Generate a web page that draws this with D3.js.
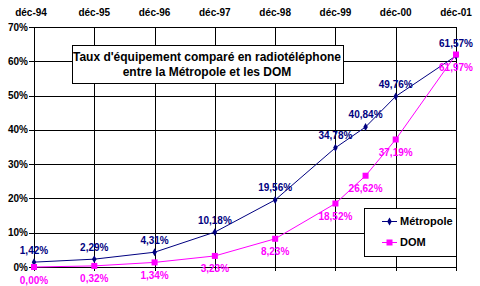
<!DOCTYPE html>
<html>
<head>
<meta charset="utf-8">
<script src="https://cdn.jsdelivr.net/npm/d3@7"></script>
<style>
  body { margin: 0; background: #fff; }
  svg { display: block; font-family: "Liberation Sans", Arial, sans-serif; font-weight: bold; }
</style>
</head>
<body>
<div id="chart"></div>
<script>
// x positions in months since déc-94
const tickLabels = ["déc-94", "déc-95", "déc-96", "déc-97", "déc-98", "déc-99", "déc-00", "déc-01"];
const months = [0, 12, 24, 36, 48, 60, 66, 72, 84];
const metropole = [1.42, 2.29, 4.31, 10.18, 19.56, 34.78, 40.84, 49.76, 61.57];
const dom = [0.00, 0.32, 1.34, 3.23, 8.23, 18.52, 26.62, 37.19, 61.97];
const yTicks = [0, 10, 20, 30, 40, 50, 60, 70];

const width = 480, height = 286;
const margin = {left: 34, right: 24, top: 27, bottom: 19};

const svg = d3.select("#chart").append("svg")
    .attr("width", width)
    .attr("height", height);

const x = d3.scaleLinear().domain([0, 84]).range([margin.left, width - margin.right]);
const y = d3.scaleLinear().domain([0, 70]).range([height - margin.bottom, margin.top]);

const fmt = v => v.toFixed(2).replace(".", ",") + "%";

// grid
svg.append("g")
    .attr("stroke", "#000")
    .attr("shape-rendering", "crispEdges")
    .selectAll("line.h")
    .data(yTicks)
    .join("line")
    .attr("x1", x(0) - 5)
    .attr("x2", x(84))
    .attr("y1", d => Math.round(y(d)) + 0.5)
    .attr("y2", d => Math.round(y(d)) + 0.5);

svg.append("g")
    .attr("stroke", "#000")
    .attr("shape-rendering", "crispEdges")
    .selectAll("line")
    .data(d3.range(0, 85, 12))
    .join("line")
    .attr("x1", d => Math.round(x(d)) + 0.5)
    .attr("x2", d => Math.round(x(d)) + 0.5)
    .attr("y1", y(70))
    .attr("y2", y(0) + 4);

// y labels
svg.append("g")
    .attr("font-size", 10)
    .attr("text-anchor", "end")
    .selectAll("text")
    .data(yTicks)
    .join("text")
    .attr("x", x(0) - 6)
    .attr("y", d => y(d))
    .attr("dy", "0.35em")
    .text(d => d + "%");

// top x labels
svg.append("g")
    .attr("font-size", 10)
    .attr("text-anchor", "middle")
    .selectAll("text")
    .data(tickLabels)
    .join("text")
    .attr("x", (d, i) => x(i * 12) - (i === 0 ? 3 : 0))
    .attr("y", 12)
    .attr("dy", "0.35em")
    .text(d => d);

// title box
const tb = svg.append("g");
tb.append("rect")
    .attr("x", 72.5).attr("y", 45.5)
    .attr("width", 271).attr("height", 38)
    .attr("fill", "#fff").attr("stroke", "#000");
tb.append("text")
    .attr("x", 207).attr("y", 57).attr("dy", "0.35em")
    .attr("text-anchor", "middle").attr("font-size", 12)
    .text("Taux d'équipement comparé en radiotéléphone");
tb.append("text")
    .attr("x", 207).attr("y", 72).attr("dy", "0.35em")
    .attr("text-anchor", "middle").attr("font-size", 12)
    .text("entre la Métropole et les DOM");

const line = d3.line().x(d => x(d[0])).y(d => y(d[1]));
const series = [
  {name: "Métropole", values: metropole, color: "#000080", shape: "diamond", dy: -12},
  {name: "DOM", values: dom, color: "#ff00ff", shape: "square", dy: 13}
];

const marker = (g, s, cx, cy) => {
  if (s.shape === "diamond") {
    g.append("path")
      .attr("d", d3.symbol(d3.symbolDiamond, 18)())
      .attr("transform", `translate(${cx},${cy})`)
      .attr("fill", s.color);
  } else {
    g.append("rect")
      .attr("x", cx - 3).attr("y", cy - 3)
      .attr("width", 6).attr("height", 6)
      .attr("fill", s.color);
  }
};

series.forEach(s => {
  const pts = months.map((m, i) => [m, s.values[i]]);
  const g = svg.append("g");
  g.append("path")
    .attr("d", line(pts))
    .attr("fill", "none")
    .attr("stroke", s.color)
    .attr("stroke-width", 1);
  pts.forEach(p => marker(g, s, x(p[0]), y(p[1])));
  g.append("g")
    .attr("font-size", 10)
    .attr("text-anchor", "middle")
    .attr("fill", s.color)
    .selectAll("text")
    .data(pts)
    .join("text")
    .attr("x", d => x(d[0]))
    .attr("y", d => y(d[1]) + s.dy)
    .attr("dy", "0.35em")
    .text(d => fmt(d[1]));
});

// legend
const lg = svg.append("g");
lg.append("rect")
    .attr("x", 364.5).attr("y", 208.5)
    .attr("width", 92).attr("height", 48)
    .attr("fill", "#fff").attr("stroke", "#000");
series.forEach((s, i) => {
  const ly = 221 + i * 21;
  lg.append("line")
    .attr("x1", 382).attr("x2", 397)
    .attr("y1", ly + 0.5).attr("y2", ly + 0.5)
    .attr("stroke", s.color);
  marker(lg, s, 389.5, ly + 0.5);
  lg.append("text")
    .attr("x", 400).attr("y", ly).attr("dy", "0.35em")
    .attr("font-size", 11)
    .text(s.name);
});
</script>
</body>
</html>
